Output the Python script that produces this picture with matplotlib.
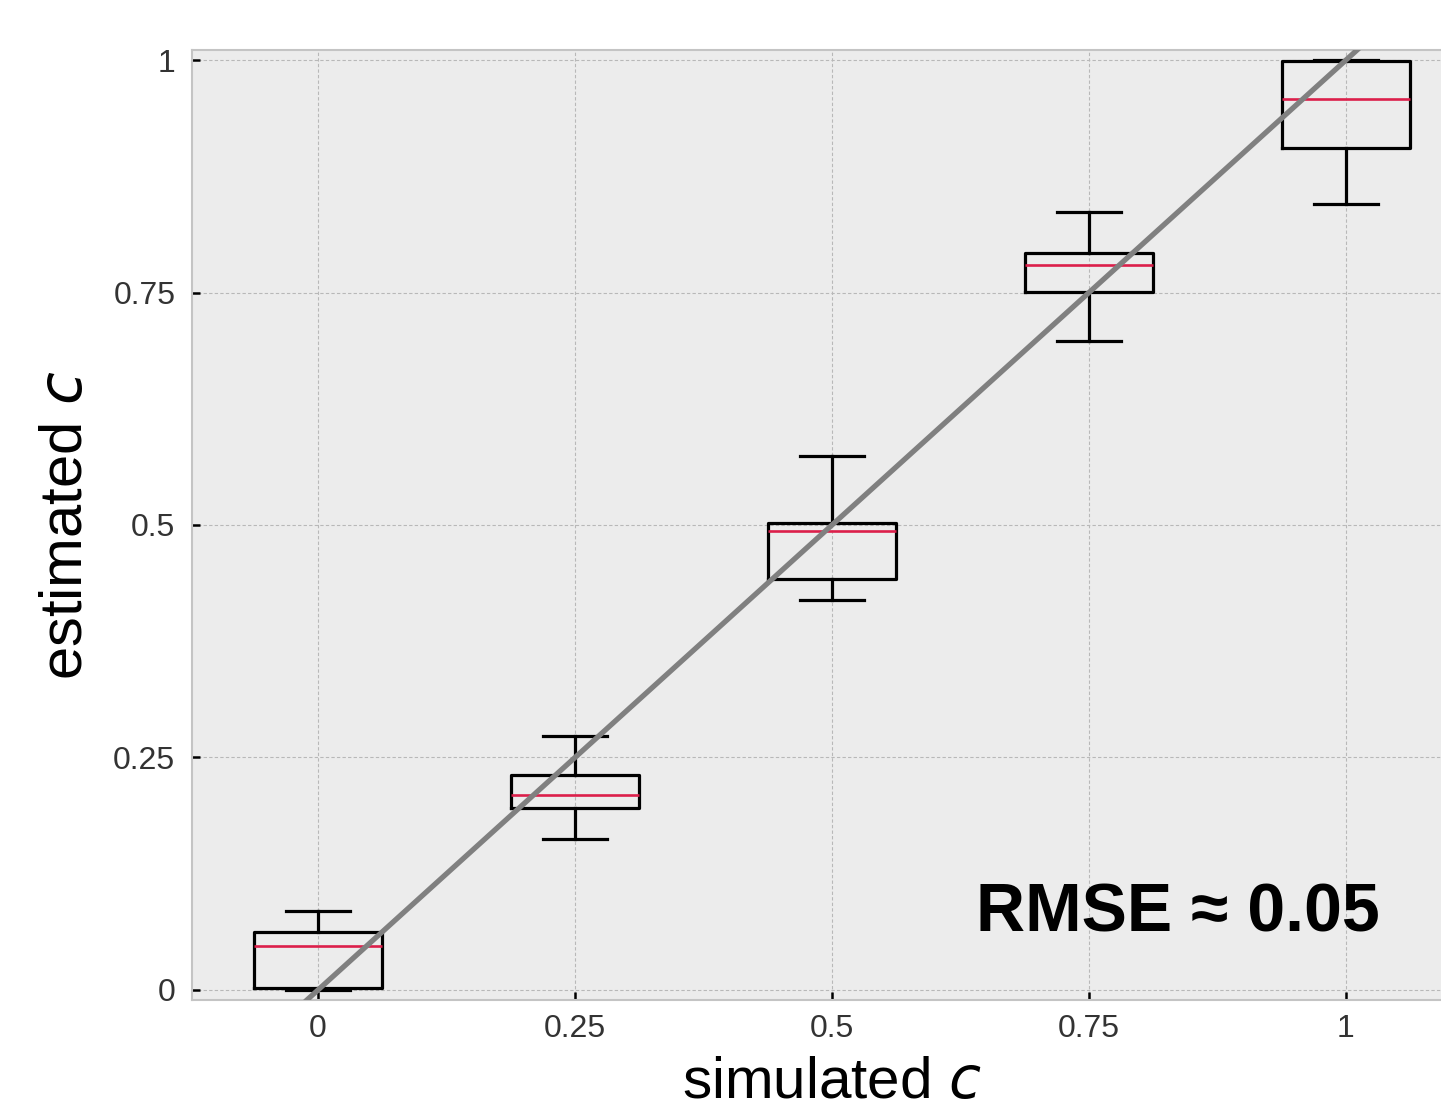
import matplotlib.pyplot as plt

plt.rcParams['font.family'] = ['Liberation Sans', 'DejaVu Sans']

# --- datos ---
simulated = [0.0, 0.25, 0.5, 0.75, 1.0]
whisker_low = [0.000, 0.162, 0.419, 0.698, 0.845]
q1 = [0.002, 0.196, 0.442, 0.751, 0.905]
medians = [0.047, 0.210, 0.494, 0.780, 0.958]
q3 = [0.062, 0.231, 0.502, 0.792, 0.999]
whisker_high = [0.085, 0.273, 0.574, 0.837, 1.000]
tick_vals = [0, 0.25, 0.5, 0.75, 1]
tick_labels = ['0', '0.25', '0.5', '0.75', '1']
rmse_text = 'RMSE ≈ 0.05'

stats = []
for i in range(len(simulated)):
    stats.append({'whislo': whisker_low[i], 'q1': q1[i], 'med': medians[i],
                  'q3': q3[i], 'whishi': whisker_high[i], 'fliers': []})

fig = plt.figure(figsize=(14.41, 11.14), dpi=100)
W, H = 1441, 1114
ax = fig.add_axes([192 / W, (H - 1000) / H, (1472 - 192) / W, 950 / H])
ax.set_facecolor('#ececec')

line_kw = dict(color='black', linewidth=2.3)
ax.bxp(stats, positions=simulated, widths=0.125, capwidths=0.0625,
       showfliers=False, boxprops=line_kw, whiskerprops=line_kw,
       capprops=line_kw,
       medianprops=dict(color='#dc1f4a', linewidth=1.9), manage_ticks=False)

# --- línea identidad ---
ax.axline((0, 0), (1, 1), color='#808080', linewidth=3.8, zorder=5)

ax.set_xlim(-0.1226, 1.1226)
ax.set_ylim(-0.0108, 1.0108)
ax.set_xticks(tick_vals)
ax.set_xticklabels(tick_labels)
ax.set_yticks(tick_vals)
ax.set_yticklabels(tick_labels)
ax.tick_params(direction='in', length=6, width=1.8, color='black',
               labelsize=23, labelcolor='#333333')
ax.tick_params(axis='x', pad=10)
ax.tick_params(axis='y', pad=12)

ax.grid(True, linestyle=(0, (3, 2)), color='#b8b8b8', linewidth=0.8)
ax.set_axisbelow(True)
for s in ax.spines.values():
    s.set_color('#c4c4c4')
    s.set_linewidth(1.5)

ax.set_xlabel('simulated $\\it{c}$', fontsize=42, labelpad=9)
ax.set_ylabel('estimated $\\it{c}$', fontsize=43, labelpad=14)

ax.text(1380, H - 932, rmse_text, transform=None, fontsize=49,
        fontweight='bold', ha='right', va='baseline')

fig.savefig('out.png', dpi=100)
